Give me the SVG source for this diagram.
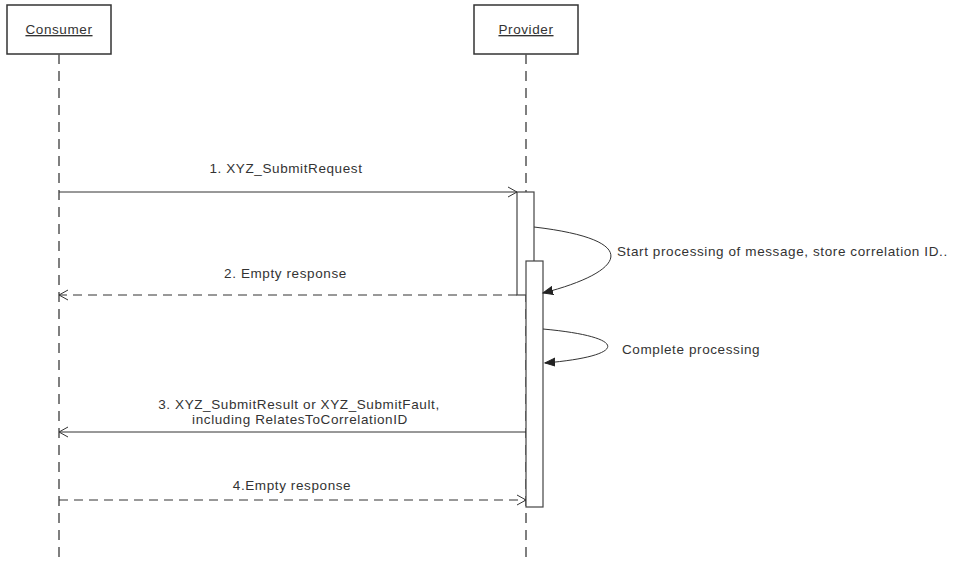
<svg xmlns="http://www.w3.org/2000/svg" width="956" height="562" viewBox="0 0 956 562">
<defs>
<style>
text{font-family:"Liberation Sans",Arial,sans-serif;font-size:13.5px;letter-spacing:0.6px;fill:#333}
.box{fill:#fff;stroke:#333;stroke-width:1.5}
.life{stroke:#555;stroke-width:1.5;stroke-dasharray:10,7;fill:none}
.msg{stroke:#333;stroke-width:1;fill:none}
.dash{stroke-dasharray:9,6}
.act{fill:#fff;stroke:#444;stroke-width:1.2}
.u{text-decoration:underline}
</style>
<marker id="open" markerWidth="12" markerHeight="12" refX="10" refY="6" orient="auto" markerUnits="userSpaceOnUse">
<path d="M1,1 L10,6 L1,11" fill="none" stroke="#333" stroke-width="1"/>
</marker>
<marker id="fill" markerWidth="12" markerHeight="12" refX="10" refY="5" orient="auto" markerUnits="userSpaceOnUse">
<path d="M0,1 L10,5 L0,9 Z" fill="#222" stroke="#222"/>
</marker>
</defs>
<g id="consumer">
<rect class="box" x="7" y="5" width="104" height="49"/>
<text class="u" x="59" y="34" text-anchor="middle">Consumer</text>
<line class="life" x1="59" y1="54" x2="59" y2="562"/>
</g>
<g id="provider">
<rect class="box" x="474" y="5" width="104" height="49"/>
<text class="u" x="526" y="34" text-anchor="middle">Provider</text>
<line class="life" x1="526" y1="54" x2="526" y2="562"/>
</g>
<g id="activation1">
<rect class="act" x="517" y="192" width="17" height="103"/>
</g>
<g id="activation2">
<rect class="act" x="526" y="261" width="17" height="246"/>
</g>
<g id="connectors">
<line class="msg" x1="59" y1="192" x2="517" y2="192" marker-end="url(#open)"/>
<path class="msg" d="M534,227 C645,240 625,272 543,293" marker-end="url(#fill)"/>
<line class="msg dash" x1="517" y1="295" x2="59" y2="295" marker-end="url(#open)"/>
<path class="msg" d="M543,329 C630,337 628,356 545,363" marker-end="url(#fill)"/>
<line class="msg" x1="526" y1="432" x2="59" y2="432" marker-end="url(#open)"/>
<line class="msg dash" x1="59" y1="500" x2="526" y2="500" marker-end="url(#open)"/>
</g>
<g id="labels">
<text x="286" y="173" text-anchor="middle">1. XYZ_SubmitRequest</text>
<text x="617" y="256">Start processing of message, store correlation ID..</text>
<text x="285.5" y="278" text-anchor="middle">2. Empty response</text>
<text x="622" y="354">Complete processing</text>
<text x="299" y="409" text-anchor="middle">3. XYZ_SubmitResult or XYZ_SubmitFault,</text>
<text x="300" y="424" text-anchor="middle">including RelatesToCorrelationID</text>
<text x="292" y="490" text-anchor="middle">4.Empty response</text>
</g>
</svg>
